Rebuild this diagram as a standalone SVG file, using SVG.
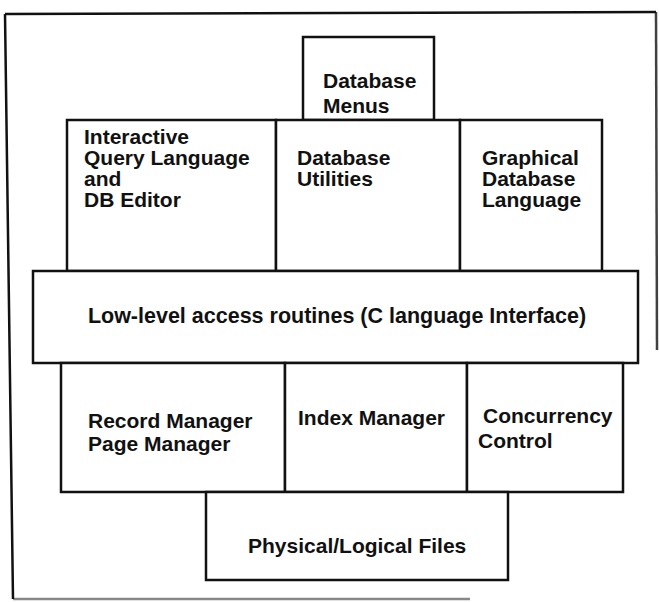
<svg xmlns="http://www.w3.org/2000/svg" width="659" height="602" viewBox="0 0 659 602">
<style>
.box{fill:#fff;stroke:#111;stroke-width:2.5}
.frame{fill:none;stroke:#111;stroke-width:2.5}
.t{font-family:"Liberation Sans",Arial,Helvetica,sans-serif;font-weight:bold;font-size:21px;fill:#111}
</style>
<rect width="659" height="602" fill="#fff"/>
<g id="frame">
<path class="frame" d="M5,14 L656,12 M5,14 L13,599"/>
<path class="frame" d="M656,12 L657,350" stroke-opacity="0.8"/>
<path class="frame" d="M13,599 L470,599" stroke-opacity="0.5"/>
</g>
<g id="database-menus">
<rect class="box" x="303" y="37" width="131" height="83"/>
<text class="t" x="323" y="88">Database</text>
<text class="t" x="323" y="113">Menus</text>
</g>
<g id="interactive-query">
<rect class="box" x="67" y="120" width="209" height="151"/>
<text class="t" x="84" y="144">Interactive</text>
<text class="t" x="84" y="165">Query Language</text>
<text class="t" x="84" y="186">and</text>
<text class="t" x="84" y="207">DB Editor</text>
</g>
<g id="database-utilities">
<rect class="box" x="276" y="120" width="184" height="151"/>
<text class="t" x="297" y="165">Database</text>
<text class="t" x="297" y="186">Utilities</text>
</g>
<g id="graphical-database-language">
<rect class="box" x="460" y="120" width="142" height="151"/>
<text class="t" x="482" y="165">Graphical</text>
<text class="t" x="482" y="186">Database</text>
<text class="t" x="482" y="207">Language</text>
</g>
<g id="low-level-access">
<rect class="box" x="33" y="271" width="605" height="92"/>
<text class="t" x="337" y="323" text-anchor="middle" style="font-size:21.5px">Low-level access routines (C language Interface)</text>
</g>
<g id="record-page-manager">
<rect class="box" x="61" y="363" width="224" height="129"/>
<text class="t" x="88" y="428">Record Manager</text>
<text class="t" x="88" y="451">Page Manager</text>
</g>
<g id="index-manager">
<rect class="box" x="285" y="363" width="182" height="129"/>
<text class="t" x="298" y="425">Index Manager</text>
</g>
<g id="concurrency-control">
<rect class="box" x="467" y="363" width="156" height="129"/>
<text class="t" x="483" y="423">Concurrency</text>
<text class="t" x="478" y="448">Control</text>
</g>
<g id="physical-logical-files">
<rect class="box" x="206" y="492" width="302" height="88"/>
<text class="t" x="248" y="553">Physical/Logical Files</text>
</g>
<g id="connectors"></g>
</svg>
